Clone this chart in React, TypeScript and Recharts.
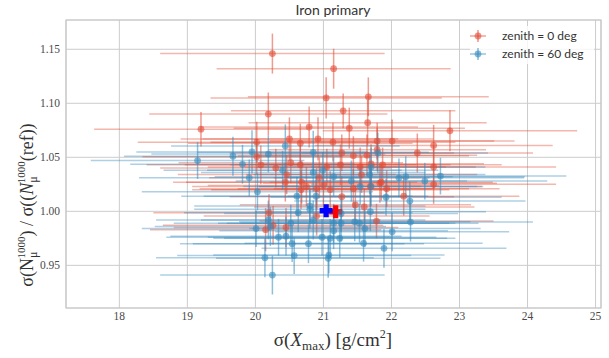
import React from 'react';
import { ScatterChart, Scatter, XAxis, YAxis, CartesianGrid, ErrorBar, ReferenceArea } from 'recharts';

const xTicks = [18, 19, 20, 21, 22, 23, 24, 25];
const yTicks = [0.95, 1.0, 1.05, 1.1, 1.15];

const redX = [20.25, 21.15, 21.04, 21.66, 20.19, 21.29, 19.2, 22.86, 20.79, 21.38, 21.65, 20.5, 20.66, 20.92, 20.02, 21.14, 21.79, 22.01, 22.62, 22.38, 21.79, 21.27, 21.44, 21.64, 20.02, 20.3, 20.52, 20.66, 21.05, 21.25, 21.54, 21.87, 21.7, 22.62, 20.44, 20.68, 20.94, 21.56, 20.46, 20.9, 20.75, 21.1, 21.44, 21.69, 21.83, 21.93, 22.62, 22.18, 21.27, 21.47, 21.6, 20.2, 20.9, 21.78, 20.45, 20.15, 20.26, 20.08, 20.67, 21.0, 21.85];
const redY = [1.146, 1.132, 1.105, 1.106, 1.09, 1.093, 1.076, 1.0745, 1.078, 1.077, 1.082, 1.067, 1.063, 1.067, 1.064, 1.064, 1.065, 1.065, 1.061, 1.054, 1.057, 1.054, 1.0515, 1.052, 1.0506, 1.04, 1.045, 1.043, 1.041, 1.043, 1.041, 1.043, 1.044, 1.041, 1.027, 1.027, 1.031, 1.034, 1.034, 1.021, 1.023, 1.02, 1.021, 1.023, 1.026, 1.021, 1.025, 1.014, 1.0135, 1.006, 1.004, 0.9987, 0.9956, 0.991, 0.985, 0.983, 0.987, 1.043, 1.02, 1.024, 1.027];
const redEx = [1.65, 1.72, 1.7, 1.77, 1.75, 1.65, 1.57, 1.87, 1.6, 1.7, 1.75, 1.6, 1.65, 1.7, 1.75, 1.8, 1.72, 1.8, 1.75, 1.7, 1.6, 1.65, 1.7, 1.62, 1.68, 1.7, 1.65, 1.7, 1.75, 1.62, 1.7, 1.75, 1.66, 1.8, 1.65, 1.7, 1.62, 1.7, 1.6, 1.72, 1.68, 1.75, 1.7, 1.64, 1.72, 1.66, 1.8, 1.7, 1.65, 1.7, 1.62, 1.7, 1.66, 1.72, 1.65, 1.7, 1.62, 1.68, 1.6, 1.7, 1.64];
const redEy = [0.0185, 0.0185, 0.019, 0.018, 0.02, 0.016, 0.016, 0.019, 0.019, 0.019, 0.021, 0.02, 0.018, 0.02, 0.019, 0.018, 0.017, 0.02, 0.019, 0.018, 0.02, 0.017, 0.018, 0.019, 0.016, 0.018, 0.019, 0.018, 0.017, 0.019, 0.018, 0.016, 0.018, 0.02, 0.018, 0.02, 0.019, 0.017, 0.018, 0.019, 0.018, 0.017, 0.018, 0.019, 0.018, 0.017, 0.018, 0.018, 0.019, 0.018, 0.017, 0.017, 0.018, 0.016, 0.018, 0.02, 0.018, 0.018, 0.018, 0.018, 0.017];

const blueX = [19.15, 19.67, 19.81, 19.95, 20.19, 20.44, 19.91, 20.03, 20.4, 20.85, 20.85, 20.99, 21.15, 21.41, 21.7, 21.8, 21.68, 21.54, 21.7, 21.92, 22.11, 22.21, 22.27, 22.49, 22.72, 20.61, 20.89, 20.8, 20.63, 21.26, 21.69, 20.19, 20.01, 20.22, 20.52, 20.85, 21.15, 21.26, 21.53, 21.61, 22.28, 22.01, 20.34, 20.45, 20.98, 21.1, 21.24, 20.54, 20.78, 21.59, 21.89, 20.57, 20.14, 21.08, 21.07, 20.25, 21.46, 21.15, 20.8];
const blueY = [1.047, 1.051, 1.0435, 1.055, 1.053, 1.0605, 1.031, 1.018, 1.038, 1.0546, 1.036, 1.038, 1.032, 1.028, 1.041, 1.054, 1.034, 1.023, 1.023, 1.013, 1.031, 1.032, 1.0095, 1.028, 1.0326, 1.014, 1.014, 1.005, 0.9987, 0.998, 0.9996, 0.992, 0.984, 0.986, 0.989, 0.992, 0.989, 0.989, 0.989, 0.984, 0.99, 0.981, 0.976, 0.977, 0.976, 0.975, 0.975, 0.97, 0.97, 0.9704, 0.9657, 0.959, 0.957, 0.9595, 0.9565, 0.941, 0.9903, 0.982, 1.002];
const blueEx = [1.57, 1.6, 1.65, 1.7, 1.72, 1.68, 1.62, 1.7, 1.75, 1.7, 1.65, 1.7, 1.75, 1.7, 1.68, 1.62, 1.7, 1.72, 1.65, 1.7, 1.84, 1.75, 1.7, 1.8, 1.85, 1.7, 1.65, 1.7, 1.68, 1.72, 1.7, 1.65, 1.68, 1.7, 1.72, 1.65, 1.7, 1.68, 1.75, 1.7, 1.8, 1.72, 1.65, 1.7, 1.68, 1.72, 1.7, 1.65, 1.7, 1.75, 1.8, 1.72, 1.6, 1.7, 1.65, 1.65, 1.7, 1.68, 1.7];
const blueEy = [0.017, 0.018, 0.018, 0.02, 0.017, 0.02, 0.017, 0.017, 0.018, 0.02, 0.018, 0.017, 0.018, 0.019, 0.018, 0.019, 0.018, 0.017, 0.018, 0.017, 0.018, 0.019, 0.018, 0.017, 0.017, 0.018, 0.019, 0.017, 0.018, 0.017, 0.018, 0.018, 0.017, 0.018, 0.017, 0.018, 0.018, 0.017, 0.018, 0.017, 0.018, 0.018, 0.017, 0.018, 0.017, 0.018, 0.018, 0.017, 0.018, 0.017, 0.018, 0.017, 0.018, 0.017, 0.018, 0.018, 0.018, 0.017, 0.018];

const refRedX = [21.18];
const refRedY = [0.9995];
const refBlueX = [21.04];
const refBlueY = [1.0006];

const RED = '#E24A33';
const BLUE = '#348ABD';

const build = (xs: number[], ys: number[], exs: number[], eys: number[]) =>
  xs.map((x, i) => ({ x, y: ys[i], ex: exs[i], ey: eys[i] }));
const buildRef = (xs: number[], ys: number[]) => xs.map((x, i) => ({ x, y: ys[i] }));

const redData = build(redX, redY, redEx, redEy);
const blueData = build(blueX, blueY, blueEx, blueEy);
const refRed = buildRef(refRedX, refRedY);
const refBlue = buildRef(refBlueX, refBlueY);

const dot = (color: string) => (p: any) => (
  <circle cx={p.cx} cy={p.cy} r={3.4} fill={color} fillOpacity={0.6} />
);

const plus = (color: string) => (p: any) => {
  const a = 6.5, t = 2.6;
  const { cx, cy } = p;
  const d = `M${cx - t},${cy - a}H${cx + t}V${cy - t}H${cx + a}V${cy + t}H${cx + t}V${cy + a}H${cx - t}V${cy + t}H${cx - a}V${cy - t}H${cx - t}Z`;
  return <path d={d} fill={color} />;
};

const tickStyle = { fontFamily: 'Liberation Serif, serif', fontSize: 11.5, fill: '#4a4a4a' };

export default function App() {
  return (
    <div style={{ position: 'relative', width: 609, height: 358, background: '#fff' }}>
      <style>{'body{margin:0;}'}</style>
      <ScatterChart width={609} height={358} margin={{ top: 20, right: 8, bottom: 0, left: 0 }}>
        <CartesianGrid stroke="#cccccc" strokeWidth={1} />
        <XAxis
          type="number"
          dataKey="x"
          domain={[17.216, 25.08]}
          allowDataOverflow
          ticks={xTicks}
          tickLine={false}
          axisLine={false}
          tickSize={0}
          tickMargin={4}
          height={50}
          tick={tickStyle}
        />
        <YAxis
          type="number"
          dataKey="y"
          domain={[0.9105, 1.1771]}
          allowDataOverflow
          ticks={yTicks}
          tickFormatter={(v: number) => v.toFixed(2)}
          tickLine={false}
          axisLine={false}
          tickSize={0}
          tickMargin={6}
          width={66}
          tick={tickStyle}
        />
        <ReferenceArea x1={17.216} x2={25.08} y1={0.9105} y2={1.1771} fill="none" stroke="#c8c8c8" strokeWidth={1.2} ifOverflow="visible" />
        <Scatter data={refRed} isAnimationActive={false} shape={plus('#ff0000')} />
        <Scatter data={refBlue} isAnimationActive={false} shape={plus('#0000ff')} />
        <Scatter data={redData} isAnimationActive={false} shape={dot(RED)}>
          <ErrorBar dataKey="ex" direction="x" width={0} stroke="rgba(226,74,51,0.4)" strokeWidth={1.5} isAnimationActive={false} />
          <ErrorBar dataKey="ey" direction="y" width={0} stroke="rgba(226,74,51,0.55)" strokeWidth={1.5} isAnimationActive={false} />
        </Scatter>
        <Scatter data={blueData} isAnimationActive={false} shape={dot(BLUE)}>
          <ErrorBar dataKey="ex" direction="x" width={0} stroke="rgba(52,138,189,0.4)" strokeWidth={1.5} isAnimationActive={false} />
          <ErrorBar dataKey="ey" direction="y" width={0} stroke="rgba(52,138,189,0.55)" strokeWidth={1.5} isAnimationActive={false} />
        </Scatter>
      </ScatterChart>
      <svg width={609} height={358} style={{ position: 'absolute', left: 0, top: 0, pointerEvents: 'none' }}>
        <text x={333} y={15} textAnchor="middle" fontFamily="Lato, sans-serif" fontSize={14} fill="#333">Iron primary</text>
        <g>
          <rect x={470} y={26} width={124} height={38} fill="#fff" fillOpacity={0.8} />
          <line x1={470} x2={486} y1={36} y2={36} stroke="rgba(226,74,51,0.5)" strokeWidth={1.5} />
          <line x1={478} x2={478} y1={30} y2={42} stroke="rgba(226,74,51,0.6)" strokeWidth={1.5} />
          <circle cx={478} cy={36} r={3.4} fill={RED} fillOpacity={0.6} />
          <line x1={470} x2={486} y1={54} y2={54} stroke="rgba(52,138,189,0.5)" strokeWidth={1.5} />
          <line x1={478} x2={478} y1={48} y2={60} stroke="rgba(52,138,189,0.6)" strokeWidth={1.5} />
          <circle cx={478} cy={54} r={3.4} fill={BLUE} fillOpacity={0.6} />
          <text x={502} y={40} fontFamily="Lato, sans-serif" fontSize={12} fill="#333">zenith = 0 deg</text>
          <text x={502} y={58} fontFamily="Lato, sans-serif" fontSize={12} fill="#333">zenith = 60 deg</text>
        </g>
        <text x={333} y={346} textAnchor="middle" fontFamily="Liberation Serif, serif" fontSize={19} fill="#333">
          σ(<tspan fontStyle="italic">X</tspan><tspan fontSize={13} dy={4}>max</tspan><tspan dy={-4}>)  [g/cm</tspan><tspan fontSize={12} dy={-8}>2</tspan><tspan dy={8}>]</tspan>
        </text>
        <text transform="translate(33,205) rotate(-90)" textAnchor="middle" fontFamily="Liberation Serif, serif" fontSize={18} fill="#333">
          σ(N<tspan fontSize={12} dy={4}>μ</tspan><tspan fontSize={11} dy={-12} dx={-7}>1000</tspan><tspan dy={8}>) / σ((</tspan><tspan fontStyle="italic">N</tspan><tspan fontSize={12} dy={4}>μ</tspan><tspan fontSize={11} dy={-12} dx={-7}>1000</tspan><tspan dy={8}>(ref))</tspan>
        </text>
      </svg>
    </div>
  );
}
